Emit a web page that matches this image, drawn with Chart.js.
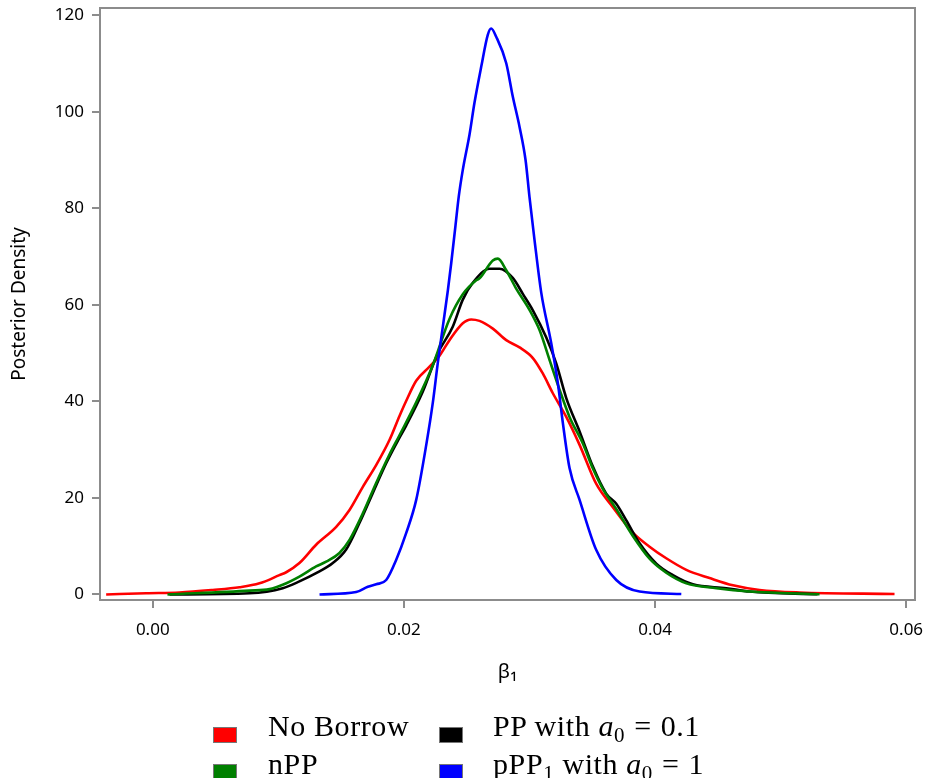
<!DOCTYPE html>
<html>
<head>
<meta charset="utf-8">
<script src="https://cdn.jsdelivr.net/npm/chart.js@4.4.1/dist/chart.umd.min.js"></script>
<style>
  html, body { margin: 0; padding: 0; background: #ffffff; width: 925px; height: 778px; overflow: hidden; }
  #wrap { position: absolute; left: 0; top: 0; width: 925px; height: 700px; }
  #legend { position: absolute; left: 0; top: 0; width: 925px; height: 778px; pointer-events: none;
            font-family: "Liberation Serif", "DejaVu Serif", serif; font-size: 30px; color: #000; }
  .key { position: absolute; width: 24px; height: 16px; border: 1px solid #777; box-sizing: border-box; }
  .lab { position: absolute; white-space: nowrap; line-height: 1; letter-spacing: 0.6px; }
  .lab sub { font-size: 21px; vertical-align: -6px; line-height: 0; }
  .lab .eq { margin: 0 9px; }
</style>
</head>
<body>
<div id="wrap"><canvas id="c" width="925" height="700"></canvas></div>
<div id="legend"></div>
<script>
// ---- data ----
const seriesNames = ["No Borrow", "nPP", "PP with a0 = 0.1", "pPP1 with a0 = 1"];
const legendHtml = ["No Borrow", "nPP",
  "PP with <i>a</i><sub>0</sub><span class=\"eq\">=</span>0.1",
  "pPP<sub>1</sub> with <i>a</i><sub>0</sub><span class=\"eq\">=</span>1"];
const seriesColors = ["#ff0000", "#008000", "#000000", "#0000ff"];

const noBorrowX = [-0.00371, -0.00053, 0.00213, 0.00478, 0.00691, 0.00850, 0.01009, 0.01063, 0.01168, 0.01301, 0.01461, 0.01567, 0.01673, 0.01779, 0.01885, 0.01965, 0.02018, 0.02098, 0.02204, 0.02284, 0.02363, 0.02469, 0.02536, 0.02602, 0.02708, 0.02815, 0.02921, 0.03027, 0.03106, 0.03186, 0.03293, 0.03399, 0.03532, 0.03664, 0.03823, 0.03956, 0.04089, 0.04249, 0.04434, 0.04620, 0.04832, 0.05151, 0.05907];
const noBorrowY = [0.0, 0.25, 0.4, 0.93, 1.5, 2.3, 4.0, 4.6, 6.5, 10.3, 14.0, 17.5, 22.3, 26.8, 32.0, 37.0, 40.1, 44.3, 47.2, 49.5, 52.7, 56.2, 57.0, 56.7, 55.1, 52.7, 51.2, 49.0, 45.8, 41.7, 36.8, 31.0, 22.9, 18.1, 12.8, 9.9, 7.5, 5.1, 3.4, 1.9, 0.93, 0.4, 0.1];

const nppX = [0.00117, 0.00770, 0.00930, 0.01035, 0.01168, 0.01301, 0.01381, 0.01487, 0.01567, 0.01673, 0.01779, 0.01885, 0.01965, 0.02098, 0.02230, 0.02363, 0.02469, 0.02576, 0.02602, 0.02708, 0.02748, 0.02815, 0.02894, 0.03000, 0.03080, 0.03160, 0.03240, 0.03319, 0.03425, 0.03505, 0.03584, 0.03691, 0.03823, 0.03956, 0.04089, 0.04249, 0.04488, 0.04753, 0.05310];
const nppY = [0.0, 0.8, 1.1, 2.0, 3.7, 5.8, 6.8, 8.6, 11.3, 16.8, 23.1, 29.0, 33.0, 39.8, 47.5, 57.1, 62.2, 65.1, 65.5, 69.2, 69.6, 67.2, 63.4, 59.0, 54.8, 48.6, 42.4, 36.8, 31.3, 26.1, 21.9, 17.7, 12.1, 7.4, 4.5, 2.3, 1.3, 0.6, 0.05];

const ppX = [0.00133, 0.00770, 0.01035, 0.01168, 0.01301, 0.01434, 0.01540, 0.01646, 0.01752, 0.01859, 0.01965, 0.02018, 0.02150, 0.02270, 0.02389, 0.02469, 0.02549, 0.02682, 0.02761, 0.02867, 0.02947, 0.03027, 0.03133, 0.03213, 0.03293, 0.03399, 0.03505, 0.03611, 0.03691, 0.03770, 0.03877, 0.04010, 0.04142, 0.04301, 0.04567, 0.04753, 0.05294];
const ppY = [0.0, 0.25, 1.3, 2.7, 4.4, 6.5, 9.3, 14.8, 21.0, 27.2, 32.5, 35.0, 42.0, 50.0, 55.5, 61.1, 64.6, 67.5, 67.5, 65.6, 62.3, 58.9, 53.3, 47.9, 40.7, 33.8, 26.5, 20.9, 18.8, 15.4, 10.6, 6.4, 4.0, 2.1, 1.3, 0.6, 0.05];

const pppX = [0.01328, 0.01620, 0.01713, 0.01780, 0.01859, 0.01939, 0.02018, 0.02098, 0.02178, 0.02230, 0.02270, 0.02310, 0.02350, 0.02377, 0.02411, 0.02437, 0.02469, 0.02523, 0.02562, 0.02616, 0.02668, 0.02695, 0.02735, 0.02815, 0.02867, 0.02921, 0.02969, 0.03000, 0.03040, 0.03094, 0.03173, 0.03226, 0.03266, 0.03319, 0.03399, 0.03532, 0.03691, 0.03877, 0.04209];
const pppY = [0.0, 0.5, 1.6, 2.1, 3.0, 7.2, 12.7, 19.6, 31.0, 39.7, 48.0, 55.5, 63.0, 68.7, 76.5, 82.5, 88.0, 95.4, 101.9, 109.4, 116.0, 117.3, 115.6, 110.1, 103.2, 96.9, 90.0, 82.4, 73.5, 62.5, 52.1, 43.8, 35.5, 26.2, 19.6, 9.2, 3.0, 0.6, 0.1];

const xTicks = [0.00, 0.02, 0.04, 0.06];
const yTicks = [0, 20, 40, 60, 80, 100, 120];
const xTitle = "β₁";
const yTitle = "Posterior Density";

// ---- build chart ----
const seriesX = [noBorrowX, nppX, ppX, pppX];
const seriesY = [noBorrowY, nppY, ppY, pppY];
const drawOrder = [4, 2, 3, 1];
const datasets = seriesNames.map((name, i) => ({
  label: name,
  data: seriesX[i].map((x, j) => ({ x: x, y: seriesY[i][j] })),
  borderColor: seriesColors[i],
  backgroundColor: seriesColors[i],
  borderWidth: 2.6,
  pointRadius: 0,
  showLine: true,
  fill: false,
  cubicInterpolationMode: 'monotone',
  order: drawOrder[i]
}));

const frameColor = '#8c8c8c';
const framePlugin = {
  id: 'frame',
  beforeDatasetsDraw(chart) {
    const a = chart.chartArea, ctx = chart.ctx;
    ctx.save();
    ctx.strokeStyle = frameColor;
    ctx.lineWidth = 2;
    ctx.strokeRect(a.left, a.top, a.right - a.left, a.bottom - a.top);
    ctx.restore();
  }
};

const tickFont = { family: "'Noto Sans', 'Open Sans', sans-serif", size: 17 };

new Chart(document.getElementById('c'), {
  type: 'scatter',
  data: { datasets },
  options: {
    responsive: false,
    animation: false,
    devicePixelRatio: 1,
    layout: { padding: { left: 0, right: 10, top: 8, bottom: 0 } },
    plugins: { legend: { display: false }, tooltip: { enabled: false } },
    scales: {
      x: {
        type: 'linear',
        min: -0.0042,
        max: 0.0607,
        afterBuildTicks: s => { s.ticks = xTicks.map(v => ({ value: v })); },
        afterFit: s => { s.height = 100; s.paddingLeft = 0; s.paddingRight = 0; },
        ticks: { font: tickFont, color: '#000', padding: 12, maxRotation: 0,
                 callback: v => v.toFixed(2) },
        grid: { display: true, drawOnChartArea: false, drawTicks: true, tickLength: 8, color: frameColor, lineWidth: 2 },
        border: { display: false },
        title: { display: true, text: xTitle, color: '#000',
                 font: { family: "'Noto Sans', sans-serif", size: 20 }, padding: { top: 0, bottom: 16 } }
      },
      y: {
        type: 'linear',
        min: -1.15,
        max: 121.55,
        afterBuildTicks: s => { s.ticks = yTicks.map(v => ({ value: v })); },
        afterFit: s => { s.width = 100; s.paddingTop = 0; s.paddingBottom = 0; },
        ticks: { font: tickFont, color: '#000', padding: 8 },
        grid: { display: true, drawOnChartArea: false, drawTicks: true, tickLength: 8, color: frameColor, lineWidth: 2 },
        border: { display: false },
        title: { display: true, text: yTitle, color: '#000',
                 font: { family: "'Noto Sans', sans-serif", size: 19 }, padding: { top: 8, bottom: 0 } }
      }
    }
  },
  plugins: [framePlugin]
});

// ---- legend (HTML text) ----
const legendPos = [
  { kx: 213, ky: 727, tx: 268, ty: 711 },
  { kx: 213, ky: 764, tx: 268, ty: 749 },
  { kx: 439, ky: 727, tx: 493, ty: 711 },
  { kx: 439, ky: 764, tx: 493, ty: 749 }
];
const leg = document.getElementById('legend');
legendHtml.forEach((html, i) => {
  const p = legendPos[i];
  const k = document.createElement('div');
  k.className = 'key';
  k.style.left = p.kx + 'px'; k.style.top = p.ky + 'px';
  k.style.background = seriesColors[i];
  leg.appendChild(k);
  const t = document.createElement('div');
  t.className = 'lab';
  t.style.left = p.tx + 'px'; t.style.top = p.ty + 'px';
  t.innerHTML = html;
  leg.appendChild(t);
});
</script>
</body>
</html>
